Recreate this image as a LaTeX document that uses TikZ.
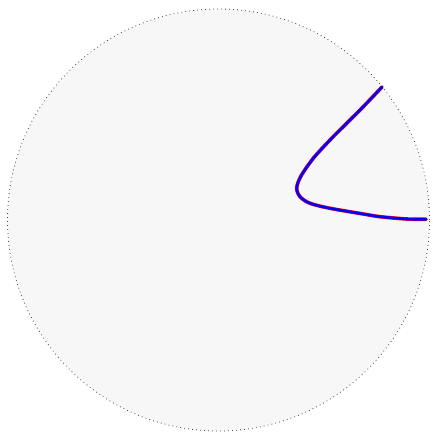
\documentclass[tikz,border=0pt]{standalone}
\begin{document}
\begin{tikzpicture}[x=1pt,y=1pt,
  disk/.style={draw=black!75,line width=0.8pt,dash pattern=on 0.8pt off 3.2pt,fill=black!3},
  redcurve/.style={draw=red,line width=3.6pt,line cap=round,line join=round},
  bluecurve/.style={draw=blue,line width=2.6pt,line cap=round,line join=round}]
\useasboundingbox (0,0) rectangle (432,433);
\draw[disk] (218.5,213) circle (211);
\def\pts{(382,346) (363.3,326.3) (346.7,309.7) (330,293) (313.3,274.7) (301,257) (296.7,245) (300,236.3) (310,229.7) (330,224.7) (363.3,219) (380,216.3) (406.7,214) (426,213.7)}
\draw[redcurve] plot[smooth,tension=0.5] coordinates {\pts};
\draw[bluecurve] plot[smooth,tension=0.5] coordinates {\pts};
\end{tikzpicture}
\end{document}
